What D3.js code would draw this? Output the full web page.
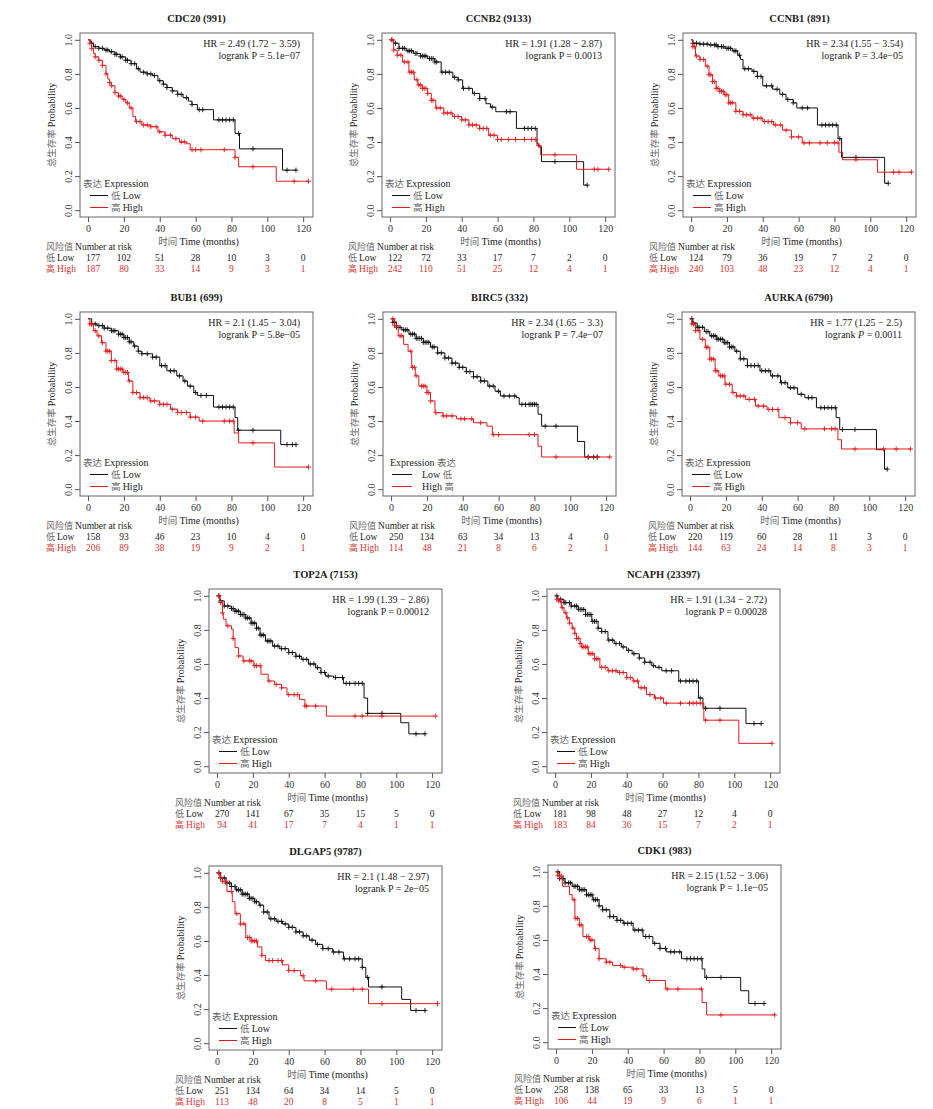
<!DOCTYPE html>
<html>
<head>
<meta charset="utf-8">
<script src="https://cdn.jsdelivr.net/npm/d3@7"></script>
<style>
  body { margin: 0; background: #fff; }
  svg { display: block; }
</style>
</head>
<body>
<svg id="chart" width="933" height="1109"></svg>
<script>
// ---- Panel labels ----
const genes  = ["CDC20", "CCNB2", "CCNB1", "BUB1", "BIRC5", "AURKA", "TOP2A", "NCAPH", "DLGAP5", "CDK1"];
const probes = ["991", "9133", "891", "699", "332", "6790", "7153", "23397", "9787", "983"];
const hrLabels = ["2.49 (1.72 − 3.59)", "1.91 (1.28 − 2.87)", "2.34 (1.55 − 3.54)", "2.1 (1.45 − 3.04)",
                  "2.34 (1.65 − 3.3)", "1.77 (1.25 − 2.5)", "1.99 (1.39 − 2.86)", "1.91 (1.34 − 2.72)",
                  "2.1 (1.48 − 2.97)", "2.15 (1.52 − 3.06)"];
const pLabels = ["5.1e−07", "0.0013", "3.4e−05", "5.8e−05", "7.4e−07", "0.0011", "0.00012", "0.00028", "2e−05", "1.1e−05"];

// ---- Axis ticks ----
const timeTicks = [0, 20, 40, 60, 80, 100, 120];
const probTicks = [0, 0.2, 0.4, 0.6, 0.8, 1.0];

// ---- Number at risk (at 0, 20, ..., 120 months) ----
const riskLow = [
  [177, 102, 51, 28, 10, 3, 0], [122, 72, 33, 17, 7, 2, 0], [124, 79, 36, 19, 7, 2, 0],
  [158, 93, 46, 23, 10, 4, 0], [250, 134, 63, 34, 13, 4, 0], [220, 119, 60, 28, 11, 3, 0],
  [270, 141, 67, 35, 15, 5, 0], [181, 98, 48, 27, 12, 4, 0], [251, 134, 64, 34, 14, 5, 0],
  [258, 138, 65, 33, 13, 5, 0]
];
const riskHigh = [
  [187, 80, 33, 14, 9, 3, 1], [242, 110, 51, 25, 12, 4, 1], [240, 103, 48, 23, 12, 4, 1],
  [206, 89, 38, 19, 9, 2, 1], [114, 48, 21, 8, 6, 2, 1], [144, 63, 24, 14, 8, 3, 1],
  [94, 41, 17, 7, 4, 1, 1], [183, 84, 36, 15, 7, 2, 1], [113, 48, 20, 8, 5, 1, 1],
  [106, 44, 19, 9, 6, 1, 1]
];

// ---- Kaplan–Meier steps: [month, survival after the drop] ----
const CDC20_low  = [[0,1],[1.5,0.98],[3,0.96],[6,0.95],[9,0.94],[12,0.93],[15,0.915],[18,0.9],[21,0.88],[24,0.86],[27,0.83],[29,0.81],[33,0.8],[36,0.79],[39,0.76],[42,0.74],[44,0.72],[47,0.7],[50,0.68],[53,0.66],[56,0.64],[58,0.62],[61,0.59],[70,0.53],[82,0.45],[84.5,0.36],[108.5,0.235]];
const CDC20_high = [[0,1],[1,0.98],[2,0.95],[3,0.92],[4,0.9],[6,0.88],[8,0.85],[10,0.8],[11,0.77],[12,0.75],[13,0.73],[15,0.69],[17,0.67],[19,0.65],[21,0.63],[23,0.6],[25,0.55],[26.5,0.52],[30,0.5],[35,0.49],[39,0.46],[43,0.44],[47,0.42],[51,0.4],[55,0.39],[57,0.355],[82,0.31],[84,0.255],[105,0.17]];
const CCNB2_low  = [[0,1],[2,0.98],[5,0.95],[9,0.935],[13,0.92],[17,0.905],[21,0.89],[25,0.87],[28.5,0.81],[35,0.78],[38,0.765],[40.5,0.715],[46,0.685],[50,0.655],[53.5,0.625],[56,0.605],[59,0.578],[70.5,0.48],[82,0.39],[83,0.372],[84.5,0.285],[108,0.147]];
const CCNB2_high = [[0,1],[2,0.94],[4,0.91],[7,0.87],[10.5,0.81],[13.5,0.765],[15.5,0.735],[18,0.715],[21,0.685],[23,0.645],[25.5,0.6],[30,0.57],[35,0.55],[40,0.53],[44,0.5],[50,0.48],[55,0.44],[60,0.415],[82,0.38],[84,0.325],[104,0.24]];
const CCNB1_low  = [[0,1],[1,0.98],[5,0.975],[10,0.97],[15,0.96],[19,0.95],[23,0.935],[26,0.91],[27.5,0.885],[29,0.83],[34,0.815],[37,0.785],[40,0.73],[45.5,0.71],[49.5,0.68],[53,0.65],[57,0.63],[59,0.6],[70.5,0.5],[82,0.42],[84,0.31],[108,0.158]];
const CCNB1_high = [[0,1],[1,0.96],[2.5,0.905],[5,0.885],[8,0.845],[10,0.795],[12,0.755],[14,0.715],[16,0.698],[18.5,0.678],[21,0.63],[25,0.58],[29,0.56],[34,0.54],[40,0.52],[46,0.5],[51,0.47],[56,0.43],[62,0.395],[82.5,0.34],[84.5,0.296],[104,0.223]];
const BUB1_low   = [[0,1],[2,0.97],[5,0.96],[9,0.945],[13,0.93],[17,0.91],[20,0.89],[23,0.865],[25.5,0.84],[28,0.81],[30,0.795],[36,0.775],[40,0.725],[44,0.695],[49.5,0.665],[53,0.635],[55.5,0.605],[59,0.567],[61,0.55],[70,0.482],[82,0.42],[83.5,0.346],[107.5,0.262]];
const BUB1_high  = [[0,1],[1,0.97],[3,0.93],[5,0.9],[7.5,0.86],[10,0.81],[13,0.755],[16,0.705],[19.5,0.685],[22.5,0.635],[25,0.567],[29,0.537],[34.5,0.518],[40,0.498],[46,0.47],[50,0.45],[57,0.423],[62,0.4],[81.5,0.33],[84,0.272],[104,0.13]];
const BIRC5_low  = [[0,1],[1,0.98],[3,0.95],[6,0.935],[10,0.91],[14,0.885],[18,0.862],[22,0.835],[26,0.8],[30,0.77],[34,0.74],[38,0.715],[42,0.69],[46,0.66],[50,0.635],[54,0.605],[58,0.575],[61,0.547],[70,0.537],[71.5,0.498],[82,0.44],[84,0.37],[104,0.28],[108,0.189]];
const BIRC5_high = [[0,1],[2,0.96],[4,0.9],[7,0.85],[9.5,0.81],[11.5,0.715],[13.5,0.665],[15.5,0.605],[20,0.567],[22,0.518],[24.5,0.449],[29,0.43],[36.5,0.413],[46,0.39],[53.5,0.37],[56.5,0.32],[82,0.252],[84,0.189]];
const AURKA_low  = [[0,1],[1.5,0.975],[4,0.95],[8,0.925],[11,0.9],[15,0.88],[19,0.86],[22,0.835],[25,0.81],[28,0.765],[32,0.725],[39,0.695],[45,0.665],[50.5,0.625],[54.5,0.595],[60,0.557],[64,0.537],[70.5,0.478],[81.5,0.42],[83.5,0.35],[104,0.232],[108.5,0.118]];
const AURKA_high = [[0,1],[1,0.97],[3,0.93],[5.5,0.88],[8.5,0.833],[11,0.764],[14,0.695],[16,0.665],[19.5,0.616],[23.5,0.567],[26,0.547],[31,0.527],[36.5,0.488],[43,0.468],[49.5,0.42],[56,0.39],[62,0.354],[82.5,0.29],[84.5,0.236]];
const TOP2A_low  = [[0,1],[1.5,0.97],[4,0.94],[8,0.925],[10,0.91],[13,0.89],[16,0.87],[19,0.84],[22,0.81],[24,0.77],[27,0.735],[31,0.705],[35,0.69],[40,0.667],[44,0.645],[47,0.627],[51,0.6],[55,0.578],[58,0.55],[60.5,0.529],[65,0.52],[70.5,0.486],[82,0.4],[84,0.31],[102.5,0.255],[107,0.19]];
const TOP2A_high = [[0,1],[1.5,0.96],[3,0.9],[3.5,0.863],[5,0.824],[8,0.804],[9,0.75],[10,0.696],[12,0.647],[14.5,0.618],[20.5,0.59],[24.5,0.54],[28.5,0.5],[32,0.48],[36,0.46],[39,0.42],[46,0.392],[49,0.353],[61,0.294]];
const NCAPH_low  = [[0,1],[1.5,0.98],[5,0.96],[9,0.94],[13,0.92],[17,0.89],[20.5,0.85],[24,0.81],[26,0.79],[29.5,0.74],[33,0.72],[37,0.7],[40,0.68],[43,0.66],[47,0.635],[50,0.61],[54,0.59],[56,0.58],[59.5,0.56],[69,0.5],[80,0.4],[82.5,0.34],[106.5,0.25]];
const NCAPH_high = [[0,1],[1,0.98],[2,0.97],[3.5,0.93],[5,0.9],[6.5,0.87],[8,0.84],[9.5,0.81],[11,0.78],[12,0.75],[14,0.72],[15,0.7],[18.5,0.66],[22,0.63],[25,0.58],[29.5,0.56],[35,0.55],[40,0.52],[43.5,0.5],[46.5,0.46],[51,0.42],[55.5,0.4],[60.5,0.37],[83,0.27],[102.5,0.134]];
const DLGAP5_low  = [[0,1],[2,0.97],[5,0.94],[8,0.92],[10.5,0.9],[14,0.875],[18,0.85],[21,0.83],[23.5,0.81],[26,0.77],[29,0.73],[33,0.715],[36.5,0.7],[40,0.68],[44,0.653],[48,0.63],[51.5,0.605],[55,0.58],[59,0.555],[64.5,0.535],[70.5,0.495],[81,0.445],[83,0.386],[84.5,0.33],[103,0.257],[108,0.192]];
const DLGAP5_high = [[0,1],[1.5,0.97],[3,0.95],[5.5,0.89],[8.5,0.83],[10,0.76],[13,0.7],[16,0.62],[19,0.6],[22.5,0.565],[25,0.515],[27,0.485],[36.5,0.46],[40,0.426],[46.5,0.396],[48.5,0.366],[61,0.317],[84.5,0.232]];
const CDK1_low   = [[0,1],[2,0.96],[5,0.935],[9,0.915],[13,0.895],[17,0.865],[20.5,0.836],[24,0.8],[26,0.777],[30,0.737],[34,0.715],[37.5,0.698],[43,0.658],[48.5,0.62],[54,0.58],[58,0.55],[61.5,0.53],[70,0.49],[81.5,0.43],[83,0.38],[103,0.302],[107.5,0.227]];
const CDK1_high  = [[0,1],[1,0.98],[2,0.975],[3.5,0.915],[7.5,0.866],[9,0.836],[10.5,0.727],[13,0.688],[15,0.62],[18.5,0.6],[21.5,0.55],[24,0.49],[28,0.47],[31.5,0.45],[37,0.44],[43,0.43],[48.5,0.39],[50.5,0.362],[61,0.312],[81.5,0.233],[84,0.16]];

// ---- Censoring times (months) ----
const CDC20_lowCens  = [2,4,6,8,10,11,13,15,16,18,19,21,22,24,26,28,31,33,35,37,40,42,44,47,50,52,55,58,62,64,73,75,77,79,81,84,92,111,116];
const CDC20_highCens = [1,2,4,6,8,10,12,13,15,17,18,20,22,24,27,29,31,33,35,38,40,43,46,49,52,54,58,60,63,76,82,92,115,123];
const CCNB2_lowCens  = [1,3,5,7,8,10,11,12,14,15,17,18,19,20,22,23,24,25,26,29,31,33,36,38,41,44,47,50,53,57,65,67,75,77,79,81,92,110];
const CCNB2_highCens = [1,2,4,6,8,10,11,12,13,15,16,17,18,19,20,21,23,24,26,28,30,32,34,36,38,40,42,44,46,48,50,52,54,56,58,60,62,66,70,75,79,81,83,92,114,116,122];
const CCNB1_lowCens  = [1,3,5,7,9,11,13,14,15,17,18,20,21,22,24,25,27,30,32,35,37,39,42,45,48,51,54,57,62,65,73,75,77,79,81,83,92,110];
const CCNB1_highCens = [1,2,3,5,7,9,10,11,12,13,14,15,16,17,18,19,20,21,22,23,25,27,29,31,33,35,37,39,41,43,45,47,50,53,56,60,63,66,72,76,80,82,92,113,116,123];
const BUB1_lowCens   = [2,4,6,8,9,11,13,14,15,17,18,19,20,21,22,23,24,26,28,30,33,36,38,41,43,46,48,51,54,57,60,63,66,73,75,77,79,81,84,92,111,114,116];
const BUB1_highCens  = [1,2,4,6,8,10,11,12,13,15,16,17,18,19,20,21,22,23,25,27,29,31,33,35,37,40,42,44,47,50,52,55,57,60,64,76,79,81,92,123];
const BIRC5_lowCens  = [1,2,3,5,7,8,9,11,12,13,14,15,16,17,18,19,20,21,23,24,26,28,30,32,34,36,38,40,42,44,46,48,50,52,55,57,60,63,66,69,73,75,77,78,79,80,81,86,92,110,113,115];
const BIRC5_highCens = [1,2,3,5,6,11,12,13,14,17,18,19,20,21,22,25,29,31,34,39,41,45,50,57,60,77,80,92,110,115,122];
const AURKA_lowCens  = [1,2,4,5,7,9,10,12,13,14,15,16,17,18,19,20,21,22,23,24,26,28,30,32,34,36,38,40,42,44,46,49,51,53,56,58,62,66,68,73,75,77,79,81,85,92,110];
const AURKA_highCens = [1,2,3,5,7,9,10,11,12,13,14,15,17,18,19,20,22,24,26,28,30,33,36,38,41,44,46,49,53,56,60,64,75,79,81,92,108,115,123];
const TOP2A_lowCens  = [1,2,4,6,8,9,10,11,12,13,14,15,16,17,18,19,20,21,22,23,24,25,26,28,29,30,32,34,36,38,40,42,44,46,48,50,52,54,56,58,60,62,66,70,72,74,77,79,81,84,92,111,116];
const TOP2A_highCens = [1,2,3,6,9,12,15,18,19,21,22,24,29,33,36,40,43,45,49,50,55,77,81,92,122];
const NCAPH_lowCens  = [1,3,5,6,8,9,11,12,13,14,15,16,17,18,19,20,21,22,23,24,26,28,30,32,34,36,38,41,44,47,50,53,55,58,62,65,70,73,75,77,79,81,84,92,111,115];
const NCAPH_highCens = [1,2,3,4,6,7,8,10,11,12,13,14,15,16,17,18,19,20,21,22,23,24,26,28,30,32,34,36,38,40,42,44,46,48,50,53,56,59,62,70,75,77,79,81,84,92,121];
const DLGAP5_lowCens  = [1,2,4,5,7,8,10,11,12,13,14,15,16,17,18,19,20,21,22,24,26,28,30,32,34,36,38,40,42,44,46,48,50,53,56,59,62,65,68,71,74,77,79,81,84,92,111,116];
const DLGAP5_highCens = [1,2,3,5,8,11,13,15,17,18,19,20,21,22,25,29,31,34,36,40,43,48,55,64,76,81,92,123];
const CDK1_lowCens   = [1,2,4,5,7,8,10,11,12,13,14,15,16,17,18,19,20,21,22,23,24,26,28,30,32,34,36,38,40,42,44,46,48,50,52,55,58,61,64,66,69,73,75,77,79,81,84,92,111,116];
const CDK1_highCens  = [1,2,3,10,11,12,13,14,17,18,19,20,22,24,28,30,36,38,43,45,49,52,62,68,81,92,122];

const lowCurves  = [CDC20_low, CCNB2_low, CCNB1_low, BUB1_low, BIRC5_low, AURKA_low, TOP2A_low, NCAPH_low, DLGAP5_low, CDK1_low];
const highCurves = [CDC20_high, CCNB2_high, CCNB1_high, BUB1_high, BIRC5_high, AURKA_high, TOP2A_high, NCAPH_high, DLGAP5_high, CDK1_high];
const lowCens  = [CDC20_lowCens, CCNB2_lowCens, CCNB1_lowCens, BUB1_lowCens, BIRC5_lowCens, AURKA_lowCens, TOP2A_lowCens, NCAPH_lowCens, DLGAP5_lowCens, CDK1_lowCens];
const highCens = [CDC20_highCens, CCNB2_highCens, CCNB1_highCens, BUB1_highCens, BIRC5_highCens, AURKA_highCens, TOP2A_highCens, NCAPH_highCens, DLGAP5_highCens, CDK1_highCens];

// ---- Layout: top-left corner of each plot box ----
const boxOrigins = [[80, 33], [382, 33], [683, 33],
                    [80, 312], [383, 312], [682, 312],
                    [209, 589], [547, 589],
                    [209, 866], [548, 865]];
const BW = 233, BH = 184;
const SERIF = "'Liberation Serif','Times New Roman',serif";
const CJK = "'Noto Sans CJK SC','Noto Sans CJK TC',sans-serif";
const RED = "#e31a1c";
const RED_TXT = "#d8322e";
const CJK_FILL = "#666";

const svg = d3.select("#chart");

// survival value of a step function at time t
function survAt(steps, t) {
  let s = 1;
  for (const [ts, v] of steps) { if (ts <= t) s = v; else break; }
  return s;
}

// text with a CJK run followed by a Latin run (or the reverse)
function mixedText(g, parts, attrs, size) {
  const fs = size || 10;
  const t = g.append("text").attr("font-family", SERIF).attr("font-size", fs).attr("fill", "#222");
  for (const k in attrs) t.attr(k, attrs[k]);
  parts.forEach(p => {
    const sp = t.append("tspan").text(p.text);
    if (p.cjk) sp.attr("font-family", CJK).attr("fill", p.fill || CJK_FILL).attr("font-size", fs - 0.5);
    else if (p.fill) sp.attr("fill", p.fill);
    if (p.italic) sp.attr("font-style", "italic");
  });
  return t;
}

genes.forEach((gene, i) => {
  const [ox, oy] = boxOrigins[i];
  const g = svg.append("g").attr("transform", `translate(${ox},${oy})`);
  const x = d3.scaleLinear().domain([-4.5, 125.5]).range([0, BW]);
  const y = d3.scaleLinear().domain([-0.04, 1.04]).range([BH, 0]);

  // title
  g.append("text").attr("x", BW / 2).attr("y", -11).attr("text-anchor", "middle")
    .attr("font-family", SERIF).attr("font-size", 10.5).attr("font-weight", "bold").attr("fill", "#222")
    .text(`${gene} (${probes[i]})`);

  // x axis
  const xa = g.append("g").attr("transform", `translate(0,${BH})`)
    .call(d3.axisBottom(x).tickValues(timeTicks).tickSize(5).tickPadding(3));
  xa.select(".domain").remove();
  xa.selectAll("line").attr("stroke", "#555");
  xa.selectAll("text").attr("font-family", SERIF).attr("font-size", 10).attr("fill", "#333");

  // y axis with rotated labels
  const ya = g.append("g")
    .call(d3.axisLeft(y).tickValues(probTicks).tickFormat(d3.format(".1f")).tickSize(5));
  ya.select(".domain").remove();
  ya.selectAll("line").attr("stroke", "#555");
  ya.selectAll("text").attr("x", 0).attr("y", -8).attr("dy", null)
    .attr("transform", "rotate(-90)").attr("text-anchor", "middle")
    .attr("font-family", SERIF).attr("font-size", 10).attr("fill", "#333");

  // frame
  g.append("rect").attr("width", BW).attr("height", BH)
    .attr("fill", "none").attr("stroke", "#666").attr("stroke-width", 1);

  // axis titles
  mixedText(g, [{ text: "总生存率 ", cjk: true }, { text: "Probability" }],
    { "text-anchor": "middle", transform: `translate(-25,${BH / 2}) rotate(-90)` });
  mixedText(g, [{ text: "时间  ", cjk: true }, { text: "Time (months)" }],
    { "text-anchor": "middle", x: BW / 2 + 2, y: BH + 28 });

  // survival curves
  const line = d3.line().x(d => x(d[0])).y(d => y(d[1])).curve(d3.curveStepAfter);
  const groups = [
    { steps: lowCurves[i], cens: lowCens[i], color: "#111" },
    { steps: highCurves[i], cens: highCens[i], color: RED }
  ];
  groups.forEach(gr => {
    const last = gr.steps[gr.steps.length - 1];
    const end = Math.max(last[0], d3.max(gr.cens));
    const pts = gr.steps.concat([[end, last[1]]]);
    g.append("path").attr("d", line(pts)).attr("fill", "none")
      .attr("stroke", gr.color).attr("stroke-width", 1);
    g.append("g").selectAll("path").data(gr.cens).join("path")
      .attr("d", t => {
        const cx = x(t), cy = y(survAt(gr.steps, t));
        return `M${cx - 2.5},${cy}h5M${cx},${cy - 2.5}v5`;
      })
      .attr("stroke", gr.color).attr("stroke-width", 0.9).attr("fill", "none");
  });

  // HR and p value
  g.append("text").attr("x", BW - 13).attr("y", 14).attr("text-anchor", "end")
    .attr("font-family", SERIF).attr("font-size", 10).attr("fill", "#222")
    .text(`HR = ${hrLabels[i]}`);
  mixedText(g, [{ text: "logrank " }, { text: "P", italic: gene === "AURKA" }, { text: ` = ${pLabels[i]}` }],
    { "text-anchor": "end", x: BW - 13, y: 26 });

  // legend
  const lg = g.append("g");
  if (gene === "BIRC5") {
    mixedText(lg, [{ text: "Expression  " }, { text: "表达", cjk: true }], { x: 7, y: 154 });
    [["Low  ", "低", "#111", 166], ["High  ", "高", RED, 178]].forEach(([en, zh, c, ly]) => {
      lg.append("line").attr("x1", 9).attr("x2", 29).attr("y1", ly - 3.5).attr("y2", ly - 3.5)
        .attr("stroke", c).attr("stroke-width", 1);
      mixedText(lg, [{ text: en }, { text: zh, cjk: true }], { x: 39, y: ly });
    });
  } else {
    mixedText(lg, [{ text: "表达 ", cjk: true }, { text: "Expression" }], { x: 3, y: 154 });
    [["低 ", "Low", "#111", 166], ["高 ", "High", RED, 178]].forEach(([zh, en, c, ly]) => {
      lg.append("line").attr("x1", 10).attr("x2", 28).attr("y1", ly - 3.5).attr("y2", ly - 3.5)
        .attr("stroke", c).attr("stroke-width", 1);
      mixedText(lg, [{ text: zh, cjk: true }, { text: en }], { x: 31, y: ly });
    });
  }

  // number at risk table
  const RS = 9.5;
  mixedText(g, [{ text: "风险值 ", cjk: true }, { text: "Number at risk" }], { x: -34, y: BH + 33 }, RS);
  mixedText(g, [{ text: "低 ", cjk: true }, { text: "Low" }], { x: -34, y: BH + 44 }, RS);
  mixedText(g, [{ text: "高 ", cjk: true, fill: RED_TXT }, { text: "High", fill: RED_TXT }], { x: -34, y: BH + 55 }, RS);
  g.append("g").selectAll("text").data(riskLow[i]).join("text")
    .attr("x", (d, k) => x(timeTicks[k]) + (k === 0 ? 5 : 0)).attr("y", BH + 44)
    .attr("text-anchor", "middle").attr("font-family", SERIF).attr("font-size", RS).attr("fill", "#222")
    .text(d => d);
  g.append("g").selectAll("text").data(riskHigh[i]).join("text")
    .attr("x", (d, k) => x(timeTicks[k]) + (k === 0 ? 5 : 0)).attr("y", BH + 55)
    .attr("text-anchor", "middle").attr("font-family", SERIF).attr("font-size", RS).attr("fill", RED_TXT)
    .text(d => d);
});
</script>
</body>
</html>
